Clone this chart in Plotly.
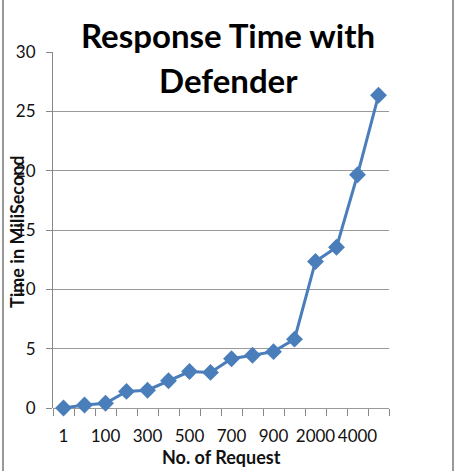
import plotly.graph_objects as go

categories = ["1", "50", "100", "200", "300", "400", "500", "600", "700", "800",
              "900", "1000", "2000", "3000", "4000", "5000"]
tick_labels = ["1", "", "100", "", "300", "", "500", "", "700", "", "900", "",
               "2000", "", "4000", ""]
response_ms = [0.0, 0.25, 0.4, 1.4, 1.5, 2.3, 3.07, 3.0, 4.15, 4.45, 4.75, 5.8,
               12.35, 13.55, 19.65, 26.35]

W, H = 459, 471
L, R, T, B = 53, 70, 52, 63
pw, ph = W - L - R, H - T - B
FONT = "Lato"

def px_x(x):
    return (x - L) / pw

def px_y(y):
    return (H - B - y) / ph

fig = go.Figure()
fig.add_trace(go.Scatter(
    x=categories, y=response_ms, mode="lines+markers",
    line=dict(color="#4A7EBB", width=3),
    marker=dict(symbol="diamond", size=13, color="#4A7EBB"),
    showlegend=False, cliponaxis=False,
))

fig.update_layout(
    width=W, height=H,
    margin=dict(l=L, r=R, t=T, b=B),
    paper_bgcolor="white", plot_bgcolor="white",
    font=dict(family=FONT, size=16, color="#111"),
    xaxis=dict(
        type="category", tickmode="array", tickvals=categories, ticktext=tick_labels,
        tickson="boundaries", ticks="outside", ticklen=7, tickcolor="#888",
        tickangle=0, ticklabelstandoff=16,
        showline=False, showgrid=False, zeroline=False,
        tickfont=dict(size=17, family=FONT, color="#111"),
        range=[-0.5, 15.5],
    ),
    yaxis=dict(
        range=[0, 30], dtick=5, ticks="outside", ticklen=6, tickcolor="#888",
        ticklabelstandoff=7,
        showline=True, linecolor="#888", linewidth=1,
        showgrid=True, gridcolor="#999", gridwidth=1,
        zeroline=True, zerolinecolor="#999", zerolinewidth=1,
        tickfont=dict(size=17, family=FONT, color="#111"),
    ),
)

ann = [
    dict(text="<b>Response Time with</b>", x=px_x(228), y=px_y(35), font=dict(size=33, color="black")),
    dict(text="<b>Defender</b>", x=px_x(228), y=px_y(80), font=dict(size=33, color="black")),
    dict(text="<b>Time in MiliSecond</b>", x=px_x(17), y=px_y(232), textangle=-90,
         font=dict(size=18, color="#111")),
    dict(text="<b>No. of Request</b>", x=px_x(221), y=px_y(457), font=dict(size=18, color="#111")),
]
for a in ann:
    fig.add_annotation(xref="paper", yref="paper", showarrow=False,
                       xanchor="center", yanchor="middle", **a)

for xx in (3, 453):
    fig.add_shape(type="line", xref="paper", yref="paper",
                  x0=px_x(xx), x1=px_x(xx), y0=px_y(H + 5), y1=px_y(-5),
                  line=dict(color="#999", width=2))

fig.write_html("out.html")
